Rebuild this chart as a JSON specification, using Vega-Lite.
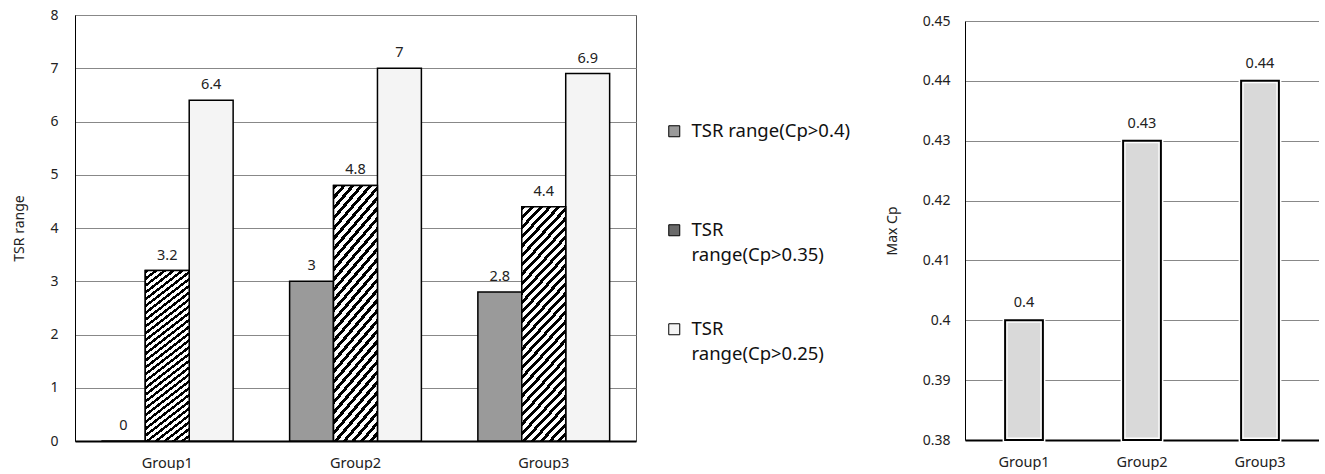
{
  "$schema": "https://vega.github.io/schema/vega-lite/v6.json",
  "background": "white",
  "padding": {"left": 12, "top": 7, "right": 0, "bottom": 0},
  "config": {
    "font": "Noto Sans",
    "view": {"stroke": "#555", "strokeWidth": 1},
    "axis": {
      "labelFont": "Noto Sans",
      "labelColor": "#222",
      "titleColor": "#222",
      "titleFont": "Noto Sans",
      "titleFontWeight": "normal",
      "ticks": false,
      "gridColor": "#888",
      "gridWidth": 1
    }
  },
  "datasets": {
    "left": [
      {"group": "Group1", "series": "TSR range(Cp>0.4)", "value": 0},
      {"group": "Group1", "series": "TSR range(Cp>0.35)", "value": 3.2},
      {"group": "Group1", "series": "TSR range(Cp>0.25)", "value": 6.4},
      {"group": "Group2", "series": "TSR range(Cp>0.4)", "value": 3},
      {"group": "Group2", "series": "TSR range(Cp>0.35)", "value": 4.8},
      {"group": "Group2", "series": "TSR range(Cp>0.25)", "value": 7},
      {"group": "Group3", "series": "TSR range(Cp>0.4)", "value": 2.8},
      {"group": "Group3", "series": "TSR range(Cp>0.35)", "value": 4.4},
      {"group": "Group3", "series": "TSR range(Cp>0.25)", "value": 6.9}
    ],
    "right": [
      {"group": "Group1", "maxcp": 0.4},
      {"group": "Group2", "maxcp": 0.43},
      {"group": "Group3", "maxcp": 0.44}
    ]
  },
  "spacing": 248,
  "hconcat": [
    {
      "width": 561,
      "height": 426,
      "data": {"name": "left"},
      "encoding": {
        "x": {
          "field": "group",
          "type": "nominal",
          "scale": {"paddingInner": 0.3, "paddingOuter": 0.14},
          "axis": {"title": null, "labelAngle": 0, "labelFontSize": 14.5, "labelPadding": 15, "domainColor": "#000", "domainWidth": 2}
        },
        "xOffset": {
          "field": "series",
          "type": "nominal",
          "sort": ["TSR range(Cp>0.4)", "TSR range(Cp>0.35)", "TSR range(Cp>0.25)"]
        },
        "y": {
          "field": "value",
          "type": "quantitative",
          "scale": {"domain": [0, 8]},
          "axis": {"title": "TSR range", "titleFontSize": 14, "values": [0, 1, 2, 3, 4, 5, 6, 7, 8], "labelFontSize": 14, "labelPadding": 17, "titlePadding": 23, "domainColor": "#000"}
        }
      },
      "layer": [
        {
          "mark": {"type": "bar", "stroke": "#000", "strokeWidth": 1.5},
          "encoding": {
            "fill": {
              "field": "series",
              "type": "nominal",
              "scale": {
                "domain": ["TSR range(Cp>0.4)", "TSR range(Cp>0.35)", "TSR range(Cp>0.25)"],
                "range": ["#9a9a9a", "#6a6a6a", "#f4f4f4"]
              },
              "legend": {
                "title": null,
                "orient": "none",
                "legendX": 590,
                "legendY": 107,
                "symbolType": "square",
                "symbolSize": 121,
                "symbolStrokeColor": "#000",
                "symbolStrokeWidth": 1,
                "labelFont": "Noto Sans",
                "labelFontSize": 18.5,
                "labelColor": "#111",
                "labelLimit": 300,
                "labelOffset": 8,
                "rowPadding": 55,
                "labelExpr": "datum.label == 'TSR range(Cp>0.4)' ? [datum.label, ' '] : ['TSR', replace(datum.label, 'TSR ', '')]",
                "encode": {"labels": {"update": {"lineHeight": {"value": 25}}}}
              }
            }
          }
        },
        {
          "transform": [{"filter": "datum.series == 'TSR range(Cp>0.35)'"}],
          "mark": {
            "type": "bar",
            "stroke": "#000",
            "strokeWidth": 1.5,
            "fill": {
              "gradient": "linear",
              "x1": 0, "y1": 0, "x2": 0.2308, "y2": 1.154,
              "stops": [
                {"offset": 0, "color": "#000"}, {"offset": 0.015, "color": "#000"}, {"offset": 0.015, "color": "#fff"}, {"offset": 0.0333, "color": "#fff"},
                {"offset": 0.0333, "color": "#000"}, {"offset": 0.0483, "color": "#000"}, {"offset": 0.0483, "color": "#fff"}, {"offset": 0.0667, "color": "#fff"},
                {"offset": 0.0667, "color": "#000"}, {"offset": 0.0817, "color": "#000"}, {"offset": 0.0817, "color": "#fff"}, {"offset": 0.1, "color": "#fff"},
                {"offset": 0.1, "color": "#000"}, {"offset": 0.115, "color": "#000"}, {"offset": 0.115, "color": "#fff"}, {"offset": 0.1333, "color": "#fff"},
                {"offset": 0.1333, "color": "#000"}, {"offset": 0.1483, "color": "#000"}, {"offset": 0.1483, "color": "#fff"}, {"offset": 0.1667, "color": "#fff"},
                {"offset": 0.1667, "color": "#000"}, {"offset": 0.1817, "color": "#000"}, {"offset": 0.1817, "color": "#fff"}, {"offset": 0.2, "color": "#fff"},
                {"offset": 0.2, "color": "#000"}, {"offset": 0.215, "color": "#000"}, {"offset": 0.215, "color": "#fff"}, {"offset": 0.2333, "color": "#fff"},
                {"offset": 0.2333, "color": "#000"}, {"offset": 0.2483, "color": "#000"}, {"offset": 0.2483, "color": "#fff"}, {"offset": 0.2667, "color": "#fff"},
                {"offset": 0.2667, "color": "#000"}, {"offset": 0.2817, "color": "#000"}, {"offset": 0.2817, "color": "#fff"}, {"offset": 0.3, "color": "#fff"},
                {"offset": 0.3, "color": "#000"}, {"offset": 0.315, "color": "#000"}, {"offset": 0.315, "color": "#fff"}, {"offset": 0.3333, "color": "#fff"},
                {"offset": 0.3333, "color": "#000"}, {"offset": 0.3483, "color": "#000"}, {"offset": 0.3483, "color": "#fff"}, {"offset": 0.3667, "color": "#fff"},
                {"offset": 0.3667, "color": "#000"}, {"offset": 0.3817, "color": "#000"}, {"offset": 0.3817, "color": "#fff"}, {"offset": 0.4, "color": "#fff"},
                {"offset": 0.4, "color": "#000"}, {"offset": 0.415, "color": "#000"}, {"offset": 0.415, "color": "#fff"}, {"offset": 0.4333, "color": "#fff"},
                {"offset": 0.4333, "color": "#000"}, {"offset": 0.4483, "color": "#000"}, {"offset": 0.4483, "color": "#fff"}, {"offset": 0.4667, "color": "#fff"},
                {"offset": 0.4667, "color": "#000"}, {"offset": 0.4817, "color": "#000"}, {"offset": 0.4817, "color": "#fff"}, {"offset": 0.5, "color": "#fff"},
                {"offset": 0.5, "color": "#000"}, {"offset": 0.515, "color": "#000"}, {"offset": 0.515, "color": "#fff"}, {"offset": 0.5333, "color": "#fff"},
                {"offset": 0.5333, "color": "#000"}, {"offset": 0.5483, "color": "#000"}, {"offset": 0.5483, "color": "#fff"}, {"offset": 0.5667, "color": "#fff"},
                {"offset": 0.5667, "color": "#000"}, {"offset": 0.5817, "color": "#000"}, {"offset": 0.5817, "color": "#fff"}, {"offset": 0.6, "color": "#fff"},
                {"offset": 0.6, "color": "#000"}, {"offset": 0.615, "color": "#000"}, {"offset": 0.615, "color": "#fff"}, {"offset": 0.6333, "color": "#fff"},
                {"offset": 0.6333, "color": "#000"}, {"offset": 0.6483, "color": "#000"}, {"offset": 0.6483, "color": "#fff"}, {"offset": 0.6667, "color": "#fff"},
                {"offset": 0.6667, "color": "#000"}, {"offset": 0.6817, "color": "#000"}, {"offset": 0.6817, "color": "#fff"}, {"offset": 0.7, "color": "#fff"},
                {"offset": 0.7, "color": "#000"}, {"offset": 0.715, "color": "#000"}, {"offset": 0.715, "color": "#fff"}, {"offset": 0.7333, "color": "#fff"},
                {"offset": 0.7333, "color": "#000"}, {"offset": 0.7483, "color": "#000"}, {"offset": 0.7483, "color": "#fff"}, {"offset": 0.7667, "color": "#fff"},
                {"offset": 0.7667, "color": "#000"}, {"offset": 0.7817, "color": "#000"}, {"offset": 0.7817, "color": "#fff"}, {"offset": 0.8, "color": "#fff"},
                {"offset": 0.8, "color": "#000"}, {"offset": 0.815, "color": "#000"}, {"offset": 0.815, "color": "#fff"}, {"offset": 0.8333, "color": "#fff"},
                {"offset": 0.8333, "color": "#000"}, {"offset": 0.8483, "color": "#000"}, {"offset": 0.8483, "color": "#fff"}, {"offset": 0.8667, "color": "#fff"},
                {"offset": 0.8667, "color": "#000"}, {"offset": 0.8817, "color": "#000"}, {"offset": 0.8817, "color": "#fff"}, {"offset": 0.9, "color": "#fff"},
                {"offset": 0.9, "color": "#000"}, {"offset": 0.915, "color": "#000"}, {"offset": 0.915, "color": "#fff"}, {"offset": 0.9333, "color": "#fff"},
                {"offset": 0.9333, "color": "#000"}, {"offset": 0.9483, "color": "#000"}, {"offset": 0.9483, "color": "#fff"}, {"offset": 0.9667, "color": "#fff"},
                {"offset": 0.9667, "color": "#000"}, {"offset": 0.9817, "color": "#000"}, {"offset": 0.9817, "color": "#fff"}, {"offset": 1, "color": "#fff"}
              ]
            }
          }
        },
        {
          "mark": {"type": "text", "dy": -8, "fontSize": 14.5, "color": "#222", "baseline": "bottom"},
          "encoding": {"text": {"field": "value", "type": "quantitative", "format": "~g"}}
        }
      ]
    },
    {
      "width": 354,
      "height": 425,
      "view": {"stroke": null},
      "data": {"name": "right"},
      "encoding": {
        "x": {
          "field": "group",
          "type": "nominal",
          "scale": {"paddingInner": 0.68, "paddingOuter": 0.34},
          "axis": {"title": null, "labelAngle": 0, "labelFontSize": 14.5, "labelPadding": 15, "domainColor": "#000", "domainWidth": 2}
        },
        "y": {
          "field": "maxcp",
          "type": "quantitative",
          "scale": {"domain": [0.38, 0.45], "zero": false, "range": [425, 6]},
          "axis": {"title": "Max Cp", "titleFontSize": 14, "values": [0.38, 0.39, 0.4, 0.41, 0.42, 0.43, 0.44, 0.45], "format": "~g", "labelFontSize": 14, "labelPadding": 15, "titlePadding": 23, "domainColor": "#000"}
        }
      },
      "layer": [
        {
          "mark": {"type": "bar", "stroke": "#fff", "strokeWidth": 5, "fill": "#d9d9d9"},
          "encoding": {"y2": {"datum": 0.38}}
        },
        {
          "mark": {"type": "bar", "stroke": "#000", "strokeWidth": 2, "fill": null},
          "encoding": {"y2": {"datum": 0.38}}
        },
        {
          "mark": {"type": "text", "dy": -10, "fontSize": 14.5, "color": "#222", "baseline": "bottom"},
          "encoding": {"text": {"field": "maxcp", "type": "quantitative", "format": "~g"}}
        }
      ]
    }
  ]
}
